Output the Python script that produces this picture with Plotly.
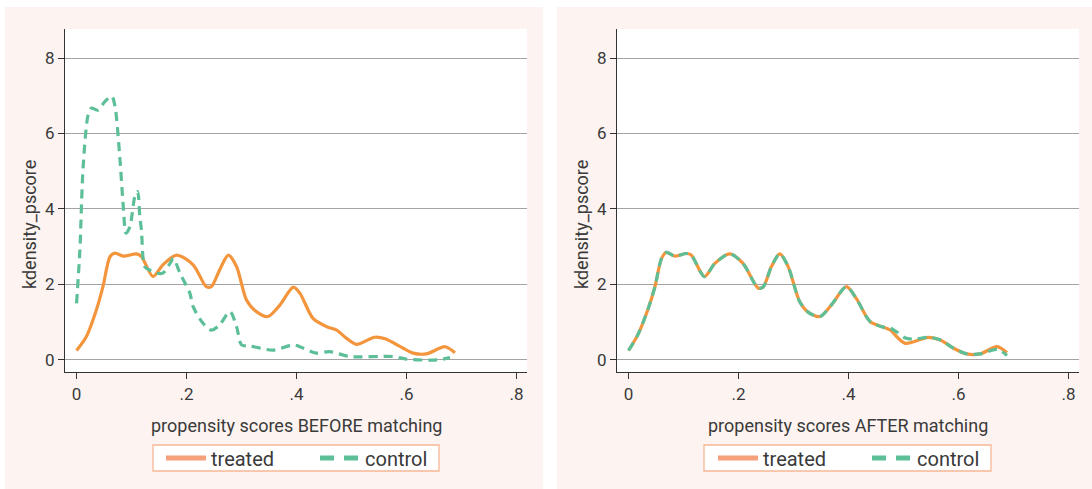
import plotly.graph_objects as go

# ---------------- data ----------------
before_treated_x = [0.0, 0.018, 0.036, 0.048, 0.061, 0.070, 0.085, 0.109, 0.118, 0.139, 0.157, 0.182,
                    0.212, 0.236, 0.245, 0.260, 0.276, 0.291, 0.309, 0.327, 0.348, 0.370, 0.394, 0.406,
                    0.430, 0.455, 0.473, 0.491, 0.509, 0.542, 0.561, 0.594, 0.612, 0.636, 0.670, 0.688]
before_treated_y = [0.25, 0.62, 1.32, 1.94, 2.74, 2.83, 2.75, 2.81, 2.74, 2.21, 2.52, 2.78,
                    2.52, 1.94, 1.94, 2.38, 2.78, 2.47, 1.59, 1.28, 1.15, 1.46, 1.93, 1.77,
                    1.10, 0.88, 0.79, 0.57, 0.41, 0.60, 0.56, 0.31, 0.18, 0.16, 0.35, 0.19]

before_control_x = [0.0, 0.006, 0.012, 0.021, 0.027, 0.039, 0.051, 0.064, 0.070, 0.079, 0.085, 0.090,
                    0.097, 0.106, 0.111, 0.115, 0.118, 0.124, 0.133, 0.145, 0.157, 0.170, 0.176, 0.188,
                    0.206, 0.212, 0.230, 0.245, 0.260, 0.279, 0.291, 0.300, 0.315, 0.357, 0.394, 0.406,
                    0.436, 0.460, 0.497, 0.576, 0.600, 0.655, 0.679]
before_control_y = [1.50, 2.90, 5.12, 6.49, 6.67, 6.62, 6.84, 6.99, 6.71, 5.30, 4.06, 3.36,
                    3.53, 4.33, 4.46, 3.80, 3.44, 2.47, 2.38, 2.30, 2.30, 2.56, 2.69, 2.30,
                    1.77, 1.41, 0.97, 0.79, 0.93, 1.28, 0.88, 0.40, 0.37, 0.26, 0.40, 0.35,
                    0.18, 0.22, 0.09, 0.09, 0.02, 0.00, 0.06]

after_treated_x = [0.0, 0.017, 0.035, 0.048, 0.060, 0.069, 0.084, 0.105, 0.114, 0.138, 0.157, 0.184,
                   0.208, 0.236, 0.245, 0.260, 0.275, 0.290, 0.311, 0.327, 0.348, 0.369, 0.396, 0.414,
                   0.439, 0.463, 0.475, 0.503, 0.545, 0.567, 0.591, 0.615, 0.639, 0.670, 0.688]
after_treated_y = [0.25, 0.67, 1.33, 1.94, 2.69, 2.85, 2.75, 2.82, 2.78, 2.21, 2.56, 2.81,
                   2.56, 1.90, 1.94, 2.48, 2.81, 2.48, 1.55, 1.26, 1.15, 1.46, 1.94, 1.63,
                   1.02, 0.87, 0.80, 0.44, 0.60, 0.53, 0.31, 0.16, 0.16, 0.35, 0.19]

after_control_x = [0.0, 0.017, 0.035, 0.048, 0.060, 0.069, 0.084, 0.105, 0.114, 0.138, 0.157, 0.184,
                   0.208, 0.236, 0.245, 0.260, 0.275, 0.290, 0.311, 0.327, 0.348, 0.369, 0.396, 0.414,
                   0.439, 0.463, 0.475, 0.490, 0.503, 0.520, 0.545, 0.567, 0.591, 0.615, 0.639, 0.670, 0.688]
after_control_y = [0.25, 0.67, 1.33, 1.94, 2.69, 2.85, 2.75, 2.82, 2.78, 2.21, 2.56, 2.81,
                   2.56, 1.90, 1.94, 2.48, 2.81, 2.48, 1.55, 1.26, 1.15, 1.46, 1.94, 1.63,
                   1.02, 0.87, 0.85, 0.72, 0.58, 0.55, 0.60, 0.53, 0.31, 0.16, 0.16, 0.28, 0.12]

x_tick_vals = [0, 0.2, 0.4, 0.6, 0.8]
x_tick_text = ["0", ".2", ".4", ".6", ".8"]
y_tick_vals = [0, 2, 4, 6, 8]
series_names = ["treated", "control"]
x_titles = ["propensity scores BEFORE matching", "propensity scores AFTER matching"]
y_title = "kdensity_pscore"

# ---------------- style ----------------
W, H = 1092, 489
FONT = "Roboto"
TEXT = "#3a3a3a"
ORANGE = "#f3953c"
GREEN = "#5cbf97"
ORANGE_LEG = "#f5a27c"
GREEN_LEG = "#5cbf97"
PINK = "#fdf4f1"
DASH = "9px,6px"

def px_x(p):
    return p / W

def px_y(p):
    return 1 - p / H

fig = go.Figure()

panels = [
    (before_treated_x, before_treated_y, before_control_x, before_control_y, "x", "y", "legend"),
    (after_treated_x, after_treated_y, after_control_x, after_control_y, "x2", "y2", "legend2"),
]
for tx, ty, cx, cy, xa, ya, lg in panels:
    fig.add_trace(go.Scatter(x=tx, y=ty, mode="lines", xaxis=xa, yaxis=ya, showlegend=False,
                             line=dict(color=ORANGE, width=3.2, shape="spline", smoothing=0.8)))
    fig.add_trace(go.Scatter(x=cx, y=cy, mode="lines", xaxis=xa, yaxis=ya, showlegend=False,
                             line=dict(color=GREEN, width=3.2, dash=DASH, shape="spline", smoothing=0.8)))
    # legend entries
    fig.add_trace(go.Scatter(x=[None], y=[None], mode="lines", xaxis=xa, yaxis=ya, legend=lg,
                             name=series_names[0], line=dict(color=ORANGE_LEG, width=5)))
    fig.add_trace(go.Scatter(x=[None], y=[None], mode="lines", xaxis=xa, yaxis=ya, legend=lg,
                             name=series_names[1], line=dict(color=GREEN_LEG, width=5, dash="14px,10px")))

dom_y = [px_y(372), px_y(29)]
axis_common = dict(showline=True, linecolor="#333333", linewidth=1.3, ticks="outside", ticklen=6,
                   tickcolor="#333333", tickwidth=1.2, tickfont=dict(family=FONT, size=17, color=TEXT),
                   zeroline=False)
xaxis_common = dict(axis_common, range=[-0.021, 0.819], tickvals=x_tick_vals, ticktext=x_tick_text,
                    showgrid=False)
yaxis_common = dict(axis_common, range=[-0.32, 8.77], tickvals=y_tick_vals, showgrid=True,
                    gridcolor="#a3a3a3", gridwidth=1.4)

legend_common = dict(orientation="h", xanchor="left", yanchor="middle",
                     bgcolor="rgba(0,0,0,0)", borderwidth=0,
                     font=dict(family=FONT, size=20, color=TEXT), entrywidth=99,
                     entrywidthmode="pixels", itemwidth=40, tracegroupgap=0)

def rect(x0, x1, y0, y1, fill, line=None):
    return dict(type="rect", xref="paper", yref="paper", x0=px_x(x0), x1=px_x(x1),
                y0=px_y(y1), y1=px_y(y0), fillcolor=fill,
                line=line if line else dict(width=0), layer="below")

fig.update_layout(
    width=W, height=H, autosize=False,
    margin=dict(l=0, r=0, t=0, b=0),
    paper_bgcolor="white", plot_bgcolor="white",
    font=dict(family=FONT, color=TEXT),
    xaxis=dict(xaxis_common, domain=[px_x(65), px_x(527)], anchor="y"),
    yaxis=dict(yaxis_common, domain=dom_y, anchor="x"),
    xaxis2=dict(xaxis_common, domain=[px_x(617), px_x(1079)], anchor="y2"),
    yaxis2=dict(yaxis_common, domain=dom_y, anchor="x2"),
    legend=dict(legend_common, x=px_x(161), y=px_y(458)),
    legend2=dict(legend_common, x=px_x(713), y=px_y(458)),
    shapes=[
        rect(5, 543, 7, 489, PINK),
        rect(557, 1092, 7, 489, PINK),
        rect(65, 527, 29, 372, "white"),
        rect(617, 1079, 29, 372, "white"),
        rect(153, 439, 445, 471, "white", dict(width=1.3, color="#f6b795")),
        rect(704, 991, 445, 471, "white", dict(width=1.3, color="#f6b795")),
    ],
    annotations=[
        dict(text=x_titles[0], xref="paper", yref="paper", x=px_x(296), y=px_y(425), showarrow=False,
             xanchor="center", yanchor="middle", font=dict(family=FONT, size=18, color=TEXT)),
        dict(text=x_titles[1], xref="paper", yref="paper", x=px_x(848), y=px_y(425), showarrow=False,
             xanchor="center", yanchor="middle", font=dict(family=FONT, size=18, color=TEXT)),
        dict(text=y_title, xref="paper", yref="paper", x=px_x(29), y=px_y(225), showarrow=False,
             textangle=-90, xanchor="center", yanchor="middle", font=dict(family=FONT, size=18, color=TEXT)),
        dict(text=y_title, xref="paper", yref="paper", x=px_x(581), y=px_y(225), showarrow=False,
             textangle=-90, xanchor="center", yanchor="middle", font=dict(family=FONT, size=18, color=TEXT)),
    ],
)

fig.write_html("out.html", config={"displayModeBar": False},
               post_script="document.body.style.margin='0';document.body.style.overflow='hidden';")
